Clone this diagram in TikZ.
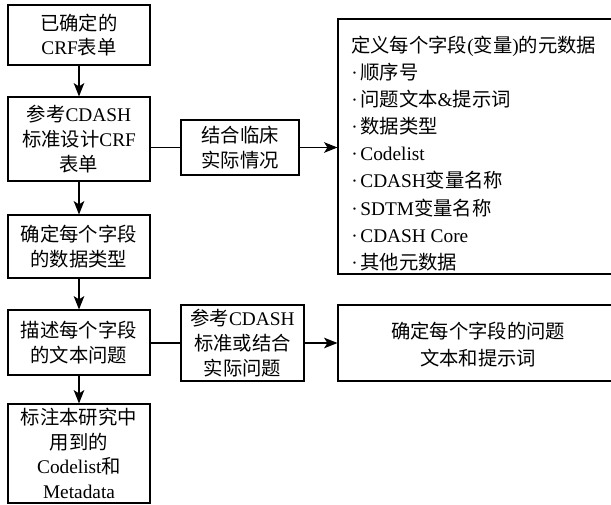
\documentclass[tikz,border=0pt]{standalone}
\usepackage{fontspec}
\setmainfont{Liberation Serif}
\newfontfamily\cjk{Noto Sans CJK SC}
\usetikzlibrary{arrows.meta}
\newcommand{\C}[1]{{\cjk #1}}
\newcommand{\bul}{·\hspace{2pt}}
\begin{document}
\begin{tikzpicture}[x=0.75pt,y=-0.75pt,
  box/.style={draw, line width=0.9pt, inner sep=0pt, align=center,
    font=\fontsize{14.5}{18.5}\selectfont},
  txt/.style={inner sep=0pt, align=left, font=\fontsize{14.5}{20.3}\selectfont},
  arr/.style={line width=0.9pt, -{Stealth[length=10pt,width=8pt,inset=2.5pt]}},
  ln/.style={line width=0.9pt}]
\clip (0,0) rectangle (611,504);
% left column
\node[box, minimum width=106.5pt, minimum height=45pt] (b1) at (79,35)
  {\C{已确定的}\\CRF\C{表单}};
\node[box, minimum width=106.5pt, minimum height=63pt] (b2) at (79,139)
  {\C{参考}CDASH\\\C{标准设计}CRF\\\C{表单}};
\node[box, minimum width=106.5pt, minimum height=47.25pt] (b3) at (79,246.5)
  {\C{确定每个字段}\\\C{的数据类型}};
\node[box, minimum width=106.5pt, minimum height=48.75pt] (b4) at (79,342.5)
  {\C{描述每个字段}\\\C{的文本问题}};
\node[box, minimum width=106.5pt, minimum height=74.25pt] (b5) at (79,453.5)
  {\C{标注本研究中}\\\C{用到的}\\Codelist\C{和}\\Metadata};
% middle column
\node[box, minimum width=88.5pt, minimum height=41.25pt] (m1) at (240,147.5)
  {\C{结合临床}\\\C{实际情况}};
\node[box, minimum width=92.25pt, minimum height=57pt] (m2) at (242.5,343)
  {\C{参考}CDASH\\\C{标准或结合}\\\C{实际问题}};
% right column
\node[box, minimum width=226.5pt, minimum height=191.25pt] (r1) at (489,146.5) {};
\node[txt, anchor=west] (r1t) at (351,153.5)
  {\C{定义每个字段}(\C{变量})\C{的元数据}\\
   \bul\C{顺序号}\\
   \bul\C{问题文本}\&\C{提示词}\\
   \bul\C{数据类型}\\
   \bul Codelist\\
   \bul CDASH\C{变量名称}\\
   \bul SDTM\C{变量名称}\\
   \bul CDASH Core\\
   \bul\C{其他元数据}};
\node[box, minimum width=226.5pt, minimum height=57pt] (r2) at (489,343) {};
\node[txt, align=center] (r2t) at (478,344.5)
  {\C{确定每个字段的问题}\\\C{文本和提示词}};
% connectors
\draw[arr] (b1) -- (b2);
\draw[arr] (b2) -- (b3);
\draw[arr] (b3) -- (b4);
\draw[arr] (b4) -- (b5);
\draw[ln] (b2.east |- m1.west) -- (m1.west);
\draw[arr] (m1.east) -- (r1.west |- m1.east);
\draw[ln] (b4.east |- m2.west) -- (m2.west);
\draw[arr] (m2.east) -- (r2.west |- m2.east);
\end{tikzpicture}
\end{document}
